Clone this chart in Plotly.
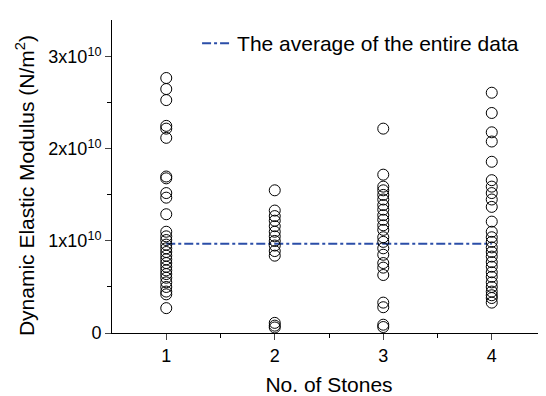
import plotly.graph_objects as go

stones = [1, 2, 3, 4]
col1 = [2.77, 2.65, 2.53, 2.25, 2.22, 2.12, 1.70, 1.68, 1.52, 1.47, 1.29, 1.10, 1.05, 1.01,
        0.96, 0.92, 0.88, 0.84, 0.80, 0.76, 0.72, 0.68, 0.64, 0.60, 0.55, 0.50, 0.45, 0.42, 0.27]
col2 = [1.55, 1.33, 1.27, 1.22, 1.16, 1.10, 1.05, 1.00, 0.95, 0.89, 0.84, 0.11, 0.08, 0.06]
col3 = [2.22, 1.72, 1.59, 1.55, 1.50, 1.45, 1.39, 1.34, 1.28, 1.23, 1.17, 1.12, 1.04, 0.99,
        0.92, 0.85, 0.76, 0.71, 0.63, 0.33, 0.28, 0.09, 0.065]
col4 = [2.61, 2.39, 2.18, 2.08, 1.86, 1.66, 1.59, 1.52, 1.45, 1.37, 1.21, 1.10, 1.04, 0.99,
        0.93, 0.88, 0.83, 0.77, 0.72, 0.66, 0.61, 0.55, 0.50, 0.45, 0.41, 0.38, 0.33]
columns = [col1, col2, col3, col4]
scale = 1e10
average = 0.97

ytick_vals = [0, 1, 2, 3]
ytick_text = ["0", "1x10<sup>10</sup>", "2x10<sup>10</sup>", "3x10<sup>10</sup>"]
y_title = "Dynamic Elastic Modulus (N/m<sup>2</sup>)"

fig = go.Figure()
xs, ys = [], []
for s, col in zip(stones, columns):
    xs += [s] * len(col)
    ys += [v * scale for v in col]

fig.add_trace(go.Scatter(
    x=[stones[0], stones[-1]], y=[average * scale, average * scale],
    mode="lines", line=dict(color="#2b4ea8", width=2, dash="dashdot"),
    name="The average of the entire data", showlegend=True))
fig.add_trace(go.Scatter(
    x=xs, y=ys, mode="markers", cliponaxis=False,
    marker=dict(symbol="circle-open", size=11, color="black", line=dict(width=1)),
    showlegend=False))

font = "Liberation Sans, Arial, sans-serif"
fig.update_layout(
    width=538, height=388,
    margin=dict(l=104, r=0, t=12, b=63),
    plot_bgcolor="white", paper_bgcolor="white",
    font=dict(family=font, color="black", size=18),
    legend=dict(x=0.196, y=0.99, xanchor="left", yanchor="top",
                bgcolor="rgba(0,0,0,0)", font=dict(size=21)),
    xaxis=dict(range=[0.5, 4.5], tickvals=stones, ticks="outside", ticklen=6,
               showline=True, linecolor="black", linewidth=1, showgrid=False,
               zeroline=False, tickfont=dict(size=18),
               minor=dict(tickvals=[1.5, 2.5, 3.5], ticks="outside", ticklen=4, tickcolor="black"),
               title=dict(text="No. of Stones", font=dict(size=21), standoff=12)),
    yaxis=dict(range=[0, 3.4 * scale], tickvals=[v * scale for v in ytick_vals], ticktext=ytick_text,
               ticks="outside", ticklen=6, showline=True, linecolor="black", linewidth=1,
               showgrid=False, zeroline=False, tickfont=dict(size=18),
               minor=dict(tickvals=[0.5 * scale, 1.5 * scale, 2.5 * scale], ticks="outside",
                          ticklen=4, tickcolor="black")),
    annotations=[dict(text=y_title, textangle=-90, xref="paper", yref="paper",
                      x=-0.2, y=0.47, xanchor="center", yanchor="middle",
                      showarrow=False, font=dict(size=21))],
)

fig.write_html("out.html")
